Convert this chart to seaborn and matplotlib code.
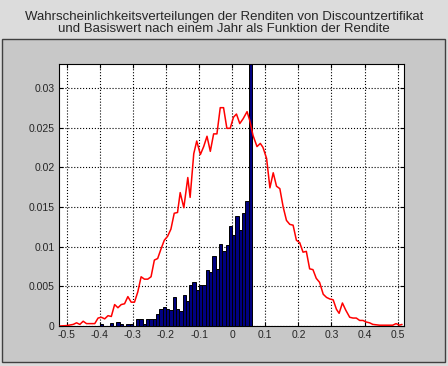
import numpy as np
import matplotlib
matplotlib.use("Agg")
import matplotlib.pyplot as plt
from matplotlib.patches import Rectangle
import seaborn as sns

# histogram of the discount certificate returns (bin left edges, heights)
bar_left = [-0.40, -0.39, -0.38, -0.37, -0.36, -0.35, -0.34, -0.33, -0.32, -0.31,
            -0.30, -0.29, -0.28, -0.27, -0.26, -0.25, -0.24, -0.23, -0.22, -0.21,
            -0.20, -0.19, -0.18, -0.17, -0.16, -0.15, -0.14, -0.13, -0.12, -0.11,
            -0.10, -0.09, -0.08, -0.07, -0.06, -0.05, -0.04, -0.03, -0.02, -0.01,
            0.00, 0.01, 0.02, 0.03, 0.04, 0.05]
bar_height = [0.0002, 0.0, 0.0, 0.0004, 0.0, 0.0005, 0.0003, 0.0, 0.0003, 0.0003,
              0.0, 0.0009, 0.0009, 0.0003, 0.0009, 0.0009, 0.0009, 0.0015, 0.0022, 0.0024,
              0.0022, 0.0020, 0.0037, 0.0021, 0.0019, 0.0039, 0.0032, 0.0052, 0.0055, 0.0045,
              0.0052, 0.0052, 0.0071, 0.0068, 0.0088, 0.0072, 0.0103, 0.0094, 0.0102, 0.0126,
              0.0114, 0.0138, 0.0121, 0.0142, 0.0157, 0.30]

# distribution of the underlying (red line)
line_x = [-0.52, -0.50, -0.48, -0.47, -0.46, -0.45, -0.44, -0.43, -0.415, -0.405,
          -0.395, -0.385, -0.375, -0.365, -0.355, -0.345, -0.335, -0.325, -0.315, -0.305,
          -0.295, -0.285, -0.275, -0.265, -0.255, -0.245, -0.235, -0.225, -0.215, -0.205,
          -0.195, -0.185, -0.175, -0.165, -0.157, -0.146, -0.134, -0.127, -0.116, -0.107,
          -0.096, -0.086, -0.076, -0.066, -0.056, -0.046, -0.036, -0.026, -0.016, -0.006,
          0.004, 0.013, 0.023, 0.033, 0.045, 0.053, 0.063, 0.075, 0.085, 0.093,
          0.104, 0.114, 0.124, 0.134, 0.144, 0.154, 0.164, 0.174, 0.184, 0.194,
          0.204, 0.214, 0.224, 0.234, 0.244, 0.254, 0.264, 0.275, 0.285, 0.295,
          0.305, 0.315, 0.323, 0.333, 0.343, 0.355, 0.365, 0.375, 0.385, 0.395,
          0.405, 0.415, 0.425, 0.445, 0.465, 0.485, 0.495, 0.505, 0.513]
line_y = [0.0, 0.00005, 0.0002, 0.0004, 0.0002, 0.0006, 0.0003, 0.0003, 0.0003, 0.0010,
          0.0011, 0.0009, 0.0013, 0.0012, 0.0027, 0.0023, 0.0027, 0.0028, 0.0037, 0.0030,
          0.0030, 0.0043, 0.0062, 0.0059, 0.0059, 0.0062, 0.0083, 0.0085, 0.0097, 0.0108,
          0.0113, 0.0122, 0.0142, 0.0143, 0.0168, 0.0149, 0.0187, 0.0162, 0.0217, 0.0233,
          0.0216, 0.0226, 0.0239, 0.0220, 0.0242, 0.0242, 0.0275, 0.0275, 0.0249, 0.0249,
          0.0263, 0.0267, 0.0255, 0.0261, 0.0270, 0.0259, 0.0240, 0.0226, 0.0230, 0.0225,
          0.0211, 0.0174, 0.0193, 0.0176, 0.0173, 0.0150, 0.0133, 0.0128, 0.0127, 0.0108,
          0.0105, 0.0093, 0.0094, 0.0072, 0.0071, 0.0060, 0.0055, 0.0040, 0.0036, 0.0034,
          0.0033, 0.0021, 0.0016, 0.0029, 0.0020, 0.0011, 0.0010, 0.0010, 0.0007, 0.0007,
          0.0005, 0.0004, 0.0002, 0.0001, 0.0001, 0.0001, 0.0003, 0.0001, 0.0002]

xticks = [-0.5, -0.4, -0.3, -0.2, -0.1, 0, 0.1, 0.2, 0.3, 0.4, 0.5]
xticklabels = ["-0.5", "-0.4", "-0.3", "-0.2", "-0.1", "0", "0.1", "0.2", "0.3", "0.4", "0.5"]
yticks = [0, 0.005, 0.01, 0.015, 0.02, 0.025, 0.03]
yticklabels = ["0", "0.005", "0.01", "0.015", "0.02", "0.025", "0.03"]

title = ("Wahrscheinlichkeitsverteilungen der Renditen von Discountzertifikat\n"
         "und Basiswert nach einem Jahr als Funktion der Rendite")

sns.set_style("white")
plt.rcParams['font.family'] = ['Liberation Sans', 'DejaVu Sans']

fig = plt.figure(figsize=(4.48, 3.66), dpi=100)
fig.patch.set_facecolor('#dcdcdc')

# grey panel behind the axes
fig.patches.append(Rectangle((0.004, 0.012), 0.99, 0.881, transform=fig.transFigure,
                             facecolor='#c8c8c8', edgecolor='#404040', linewidth=1.0, zorder=0))

fig.text(0.5, 0.937, title, ha='center', va='center', fontsize=9.5, linespacing=1.05)

ax = fig.add_axes([0.1317, 0.1093, 0.7701, 0.7158])
ax.set_zorder(2)
ax.set_facecolor('white')

centers = np.array(bar_left) + 0.005
sns.histplot(x=centers, weights=bar_height, binwidth=0.01, binrange=(-0.40, 0.06),
             color='#000080', alpha=1.0, edgecolor='black', linewidth=0.7, ax=ax, zorder=2)
sns.lineplot(x=line_x, y=line_y, color='red', linewidth=1.1, ax=ax, zorder=3,
             sort=False, estimator=None)

ax.set_xlim(-0.523, 0.519)
ax.set_ylim(0, 0.033)
ax.set_xticks(xticks)
ax.set_xticklabels(xticklabels)
ax.set_yticks(yticks)
ax.set_yticklabels(yticklabels)
ax.set_xlabel('')
ax.set_ylabel('')
ax.grid(True, color='black', linestyle=':', linewidth=0.8, zorder=1)
ax.set_axisbelow(True)
ax.tick_params(axis='both', direction='in', length=3, labelsize=7.5, color='black',
               top=True, right=True, bottom=True, left=True, pad=3)
for s in ax.spines.values():
    s.set_visible(True)
    s.set_color('black')
    s.set_linewidth(0.8)

fig.savefig('out.png', dpi=100, facecolor=fig.get_facecolor())
